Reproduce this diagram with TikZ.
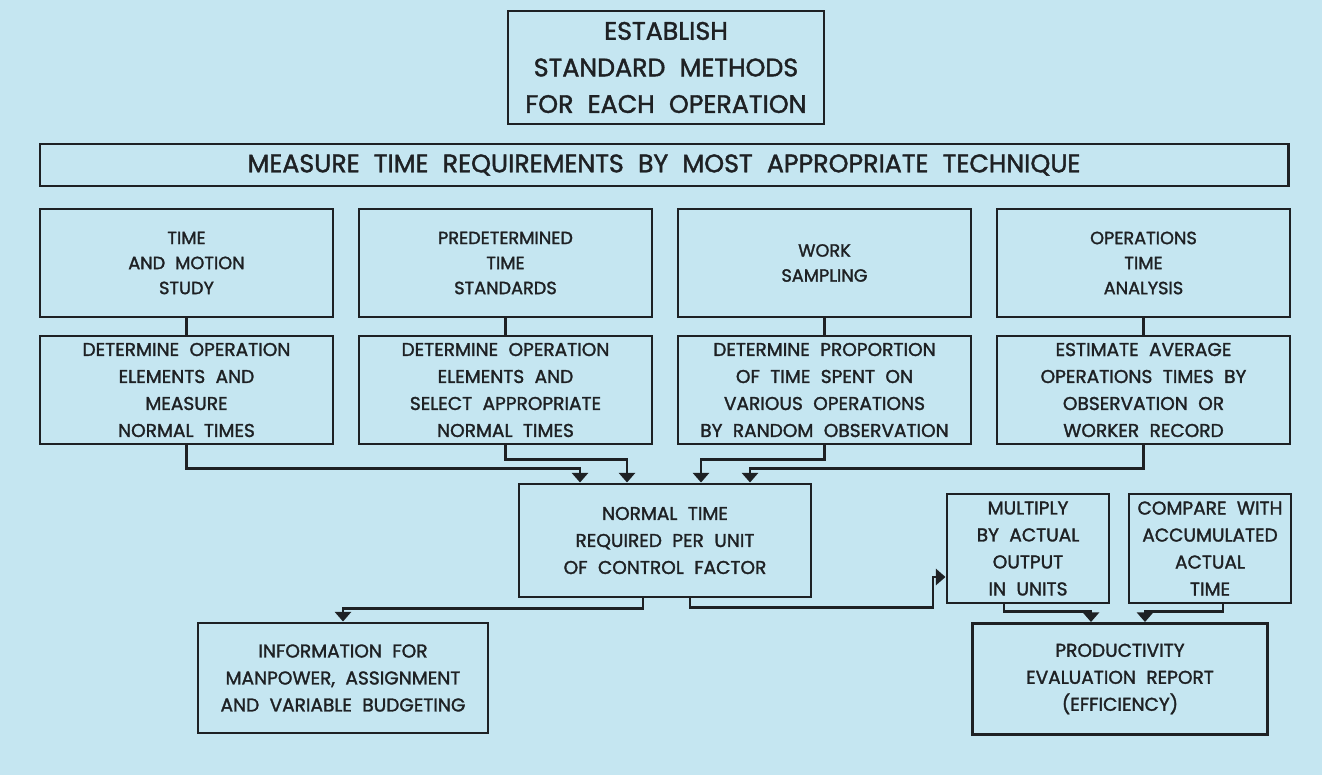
\documentclass[tikz,border=0pt]{standalone}
\usepackage{fontspec}
\setmainfont{Poppins}[WordSpace=2.1,FakeBold=1.6]
\usepackage{tikz}
\usetikzlibrary{arrows.meta,calc,positioning}
\definecolor{paperblue}{RGB}{197,230,241}
\definecolor{inkdark}{RGB}{30,33,36}
\newcommand{\headfont}{\fontsize{18}{26}\selectfont}
\newcommand{\rowfont}{\fontsize{12.6}{17.8}\selectfont}
\newcommand{\boxfont}{\fontsize{13.2}{19.2}\selectfont}
\tikzset{
  wire/.style={draw=inkdark,line width=1.7pt},
  flow/.style={wire,-{Triangle[width=4mm,length=2.4mm]}},
  box/.style={draw=inkdark,line width=2.1pt,align=center,inner sep=1pt,
              text=inkdark,font=\boxfont},
  methodbox/.style={box,minimum width=73.25mm,minimum height=27mm,font=\rowfont},
  stepbox/.style={box,minimum width=73.25mm,minimum height=27mm},
  smallbox/.style={box,minimum width=40.5mm,minimum height=27.25mm},
}

\begin{document}
\begin{tikzpicture}[x=0.25mm,y=-0.25mm]
  \fill[paperblue] (0,0) rectangle (1322,775);
  \path[use as bounding box] (0,0) rectangle (1322,775);

  \node[box,font=\headfont,minimum width=79mm,minimum height=28.25mm] (est) at (666,67.5)
    {ESTABLISH\\STANDARD METHODS\\FOR EACH OPERATION};
  \node[box,font=\headfont,minimum width=312mm,minimum height=10.5mm] (meas) at (664,165)
    {MEASURE TIME REQUIREMENTS BY MOST APPROPRIATE TECHNIQUE};

  % techniques
  \node[methodbox] (t1) at (186.5,263) {TIME\\AND MOTION\\STUDY};
  \node[methodbox] (t2) at (505.5,263) {PREDETERMINED\\TIME\\STANDARDS};
  \node[methodbox] (t3) at (824.5,263) {WORK\\SAMPLING};
  \node[methodbox] (t4) at (1143.5,263) {OPERATIONS\\TIME\\ANALYSIS};

  \node[stepbox] (m1) at (186.5,390) {DETERMINE OPERATION\\ELEMENTS AND\\MEASURE\\NORMAL TIMES};
  \node[stepbox] (m2) at (505.5,390) {DETERMINE OPERATION\\ELEMENTS AND\\SELECT APPROPRIATE\\NORMAL TIMES};
  \node[stepbox] (m3) at (824.5,390) {DETERMINE PROPORTION\\OF TIME SPENT ON\\VARIOUS OPERATIONS\\BY RANDOM OBSERVATION};
  \node[stepbox] (m4) at (1143.5,390) {ESTIMATE AVERAGE\\OPERATIONS TIMES BY\\OBSERVATION OR\\WORKER RECORD};

  \foreach \i in {1,...,4}
    \draw[wire] (t\i.south) -- (m\i.north);

  % results
  \node[box,minimum width=73mm,minimum height=28.25mm] (nt) at (665,540.5)
    {NORMAL TIME\\REQUIRED PER UNIT\\OF CONTROL FACTOR};
  \node[box,minimum width=72.5mm,minimum height=27.5mm] (info) at (343,678)
    {INFORMATION FOR\\MANPOWER, ASSIGNMENT\\AND VARIABLE BUDGETING};
  \node[smallbox] (mult) at (1028,548.5) {MULTIPLY\\BY ACTUAL\\OUTPUT\\IN UNITS};
  \node[smallbox] (comp) at (1210,548.5) {COMPARE WITH\\ACCUMULATED\\ACTUAL\\TIME};
  \node[box,minimum width=73.75mm,minimum height=27.75mm] (prod) at (1120,679)
    {PRODUCTIVITY\\EVALUATION REPORT\\(EFFICIENCY)};

  \draw[flow] (m1.south) -- ++(0,23) -| (580,0 |- nt.north);
  \draw[flow] (m2.south) -- ++(0,14) -| (627,0 |- nt.north);
  \draw[flow] (m3.south) -- ++(0,14) -| (701,0 |- nt.north);
  \draw[flow] (m4.south) -- ++(0,23) -| (750,0 |- nt.north);

  \draw[flow] (643,0 |- nt.south) -- ++(0,10) -| (info.north);
  \draw[flow] (690,0 |- nt.south) -- ++(0,9) -| (933,577) -- (mult.west |- 0,577);
  \draw[flow] (1004,0 |- mult.south) -- ++(0,7) -| (1091,0 |- prod.north);
  \draw[flow] (1223,0 |- comp.south) -- ++(0,7) -| (1145,0 |- prod.north);
\end{tikzpicture}
\end{document}
